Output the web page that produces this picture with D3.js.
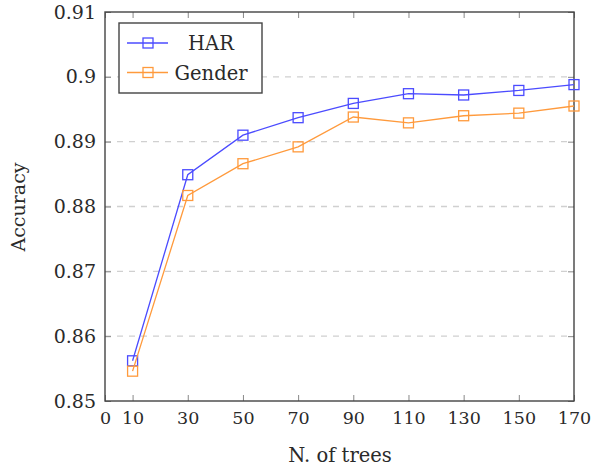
<!DOCTYPE html>
<html>
<head>
<meta charset="utf-8">
<script src="https://cdn.jsdelivr.net/npm/d3@7"></script>
<style>
  body { margin: 0; background: #fff; }
</style>
</head>
<body>
<script>
(function() {
    var w = 593;
    var h = 468;

    var trees = [10, 30, 50, 70, 90, 110, 130, 150, 170];
    var har = [0.8562, 0.8849, 0.8910, 0.8937, 0.8959, 0.8974, 0.8972, 0.8979, 0.8988];
    var gender = [0.8546, 0.8817, 0.8866, 0.8892, 0.8938, 0.8929, 0.8940, 0.8944, 0.8955];
    var xTicks = [0, 10, 30, 50, 70, 90, 110, 130, 150, 170];
    var yTicks = [0.85, 0.86, 0.87, 0.88, 0.89, 0.9, 0.91];
    var yTickLabels = ["0.85", "0.86", "0.87", "0.88", "0.89", "0.9", "0.91"];
    var seriesNames = ["HAR", "Gender"];
    var seriesColors = ["#4b4bff", "#ff9a3c"];

    var serif = "DejaVu Serif";
    var left = 105, right = 574, top = 12, bottom = 401;

    var x = d3.scaleLinear().domain([0, 170]).range([left, right]);
    var y = d3.scaleLinear().domain([0.85, 0.91]).range([bottom, top]);

    var svg = d3.select("body").append("svg").attr("width", w).attr("height", h)
        .style("font-family", serif);

    // grid lines
    svg.selectAll("line.grid")
        .data(yTicks.slice(1, -1))
        .enter().append("line")
        .attr("class", "grid")
        .attr("x1", left).attr("x2", right)
        .attr("y1", function(d) { return y(d); })
        .attr("y2", function(d) { return y(d); })
        .attr("stroke", "#d0d0d0")
        .attr("stroke-width", 1.3)
        .attr("stroke-dasharray", "6,6");

    // axes with inward ticks
    function styleAxis(size) {
        return function(g) {
            g.attr("font-family", serif).attr("font-size", size);
            g.select(".domain").remove();
            g.selectAll(".tick line").attr("stroke", "#888").attr("stroke-width", 1);
            g.selectAll(".tick text").attr("fill", "#2a2a2a").style("font-family", serif);
        };
    }

    svg.append("g").attr("transform", "translate(0," + bottom + ")")
        .call(d3.axisBottom(x).tickValues(xTicks).tickSizeInner(-6).tickSizeOuter(0).tickPadding(11))
        .call(styleAxis(17.5));
    svg.append("g").attr("transform", "translate(0," + top + ")")
        .call(d3.axisTop(x).tickValues(xTicks).tickSizeInner(-6).tickSizeOuter(0).tickFormat(""))
        .call(styleAxis(17.5));
    svg.append("g").attr("transform", "translate(" + left + ",0)")
        .call(d3.axisLeft(y).tickValues(yTicks).tickSizeInner(-6).tickSizeOuter(0).tickPadding(9)
            .tickFormat(function(d, i) { return yTickLabels[i]; }))
        .call(styleAxis(19));
    svg.append("g").attr("transform", "translate(" + right + ",0)")
        .call(d3.axisRight(y).tickValues(yTicks).tickSizeInner(-6).tickSizeOuter(0).tickFormat(""))
        .call(styleAxis(19));

    // frame
    svg.append("rect")
        .attr("x", left).attr("y", top)
        .attr("width", right - left).attr("height", bottom - top)
        .attr("fill", "none").attr("stroke", "#444").attr("stroke-width", 1.4);

    // series
    var line = d3.line()
        .x(function(d, i) { return x(trees[i]); })
        .y(function(d) { return y(d); });

    [har, gender].forEach(function(vals, k) {
        svg.append("path")
            .datum(vals)
            .attr("d", line)
            .attr("fill", "none")
            .attr("stroke", seriesColors[k])
            .attr("stroke-width", 1.3);
        svg.selectAll("rect.m" + k)
            .data(vals)
            .enter().append("rect")
            .attr("class", "m" + k)
            .attr("x", function(d, i) { return x(trees[i]) - 5; })
            .attr("y", function(d) { return y(d) - 5; })
            .attr("width", 10).attr("height", 10)
            .attr("fill", "none")
            .attr("stroke", seriesColors[k])
            .attr("stroke-width", 1.3);
    });

    // legend
    var lg = svg.append("g").attr("transform", "translate(119,23)");
    lg.append("rect").attr("width", 143).attr("height", 70)
        .attr("fill", "#fff").attr("stroke", "#444").attr("stroke-width", 1.4);
    seriesNames.forEach(function(name, k) {
        var ly = 20 + k * 29.5;
        lg.append("line").attr("x1", 8).attr("x2", 49).attr("y1", ly).attr("y2", ly)
            .attr("stroke", seriesColors[k]).attr("stroke-width", 1.3);
        lg.append("rect").attr("x", 24).attr("y", ly - 5).attr("width", 10).attr("height", 10)
            .attr("fill", "none").attr("stroke", seriesColors[k]).attr("stroke-width", 1.3);
        lg.append("text").attr("x", 92).attr("y", ly + 7)
            .attr("text-anchor", "middle").attr("font-size", 19.5).attr("fill", "#2a2a2a")
            .style("font-family", serif).text(name);
    });

    // axis labels
    svg.append("text").attr("x", 340).attr("y", 462)
        .attr("text-anchor", "middle").attr("font-size", 19.5).attr("fill", "#2a2a2a")
        .style("font-family", serif).text("N. of trees");
    svg.append("text")
        .attr("transform", "translate(25,207) rotate(-90)")
        .attr("text-anchor", "middle").attr("font-size", 19).attr("fill", "#2a2a2a")
        .style("font-family", serif).text("Accuracy");
})();
</script>
</body>
</html>
